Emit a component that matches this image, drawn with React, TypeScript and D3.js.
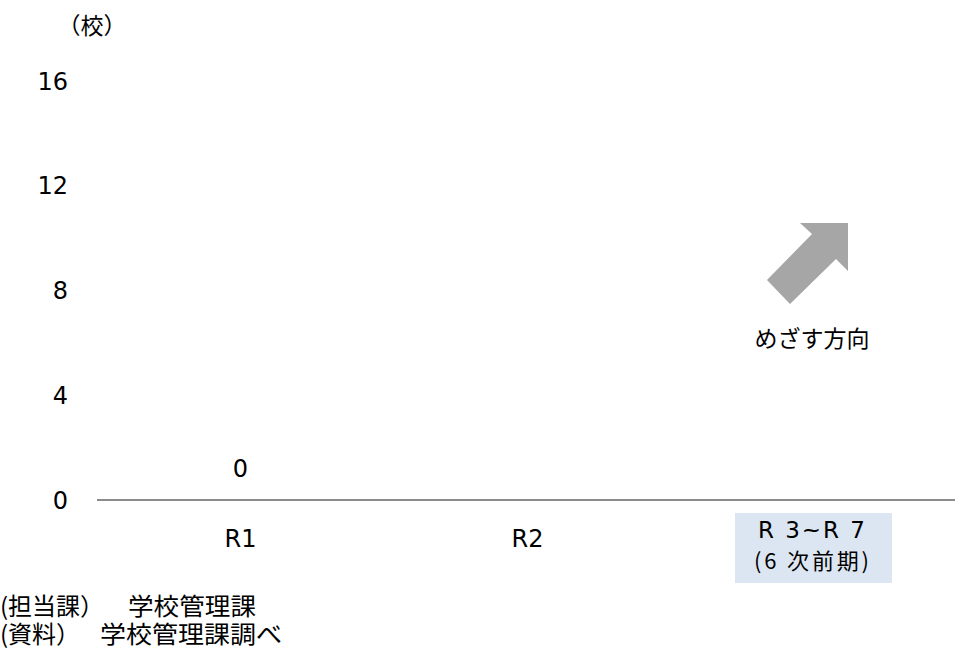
import React from "react";
import * as d3 from "d3";

const categories = ["R1", "R2", "R3~R7"];
const values: (number | null)[] = [0, null, null];
const yTicks = [0, 4, 8, 12, 16];

const W = 955;
const H = 653;
const CJK = "'Noto Sans CJK JP', 'Noto Sans', sans-serif";
const LAT = "'DejaVu Sans', Verdana, sans-serif";

export default function App() {
  const x = d3.scaleBand<string>().domain(categories).range([97, 958]).paddingInner(0.4).paddingOuter(0.2);
  const y = d3.scaleLinear().domain([0, 16]).range([500, 81]);
  const cx = (c: string) => (x(c) as number) + x.bandwidth() / 2;

  const arrow = [
    [767, 280],
    [812, 234],
    [800, 223],
    [848, 223],
    [848, 271],
    [836, 259],
    [790, 304],
  ];

  return (
    <svg width={W} height={H} style={{ position: "absolute", left: 0, top: 0, background: "#fff" }}>
      <text x={92} y={26} dy="0.36em" fontSize={23} fontFamily={CJK} textAnchor="middle" fill="#000">（校）</text>
      {yTicks.map((t) => (
        <text key={t} x={68} y={y(t)} dy="0.36em" fontSize={24} fontFamily={LAT} textAnchor="end" fill="#000">{t}</text>
      ))}
      {values.map((v, i) =>
        v === null ? null : (
          <g key={i}>
            <rect x={x(categories[i])} y={y(v)} width={x.bandwidth()} height={y(0) - y(v)} fill="#4472c4" />
            <text x={cx(categories[i])} y={y(v) - 32} dy="0.36em" fontSize={24} fontFamily={LAT} textAnchor="middle">{v}</text>
          </g>
        )
      )}
      <line x1={97} x2={955} y1={y(0)} y2={y(0)} stroke="#8c8c8c" strokeWidth={2} />
      <text x={cx("R1")} y={538} dy="0.36em" fontSize={24} fontFamily={LAT} textAnchor="middle">R1</text>
      <text x={cx("R2")} y={538} dy="0.36em" fontSize={24} fontFamily={LAT} textAnchor="middle">R2</text>
      <rect x={735} y={513} width={157} height={70} fill="#dce6f2" />
      <text x={758} y={530} dy="0.36em" fontSize={23} fontFamily={LAT} textLength={107} lengthAdjust="spacing">R 3~R 7</text>
      <text x={754} y={561} dy="0.36em" fontSize={22} fontFamily={CJK} textLength={115} lengthAdjust="spacing">(6 次前期)</text>
      <polygon points={arrow.map((p) => p.join(",")).join(" ")} fill="#a6a6a6" />
      <text x={812} y={339} dy="0.36em" fontSize={23} fontFamily={CJK} textAnchor="middle">めざす方向</text>
      <text x={0} y={606} dy="0.36em" fontSize={24} fontFamily={CJK}>(担当課）</text>
      <text x={128} y={606} dy="0.36em" fontSize={24} fontFamily={CJK} textLength={128} lengthAdjust="spacingAndGlyphs">学校管理課</text>
      <text x={0} y={634} dy="0.36em" fontSize={24} fontFamily={CJK}>(資料）</text>
      <text x={100} y={634} dy="0.36em" fontSize={24} fontFamily={CJK} textLength={182} lengthAdjust="spacingAndGlyphs">学校管理課調べ</text>
    </svg>
  );
}
